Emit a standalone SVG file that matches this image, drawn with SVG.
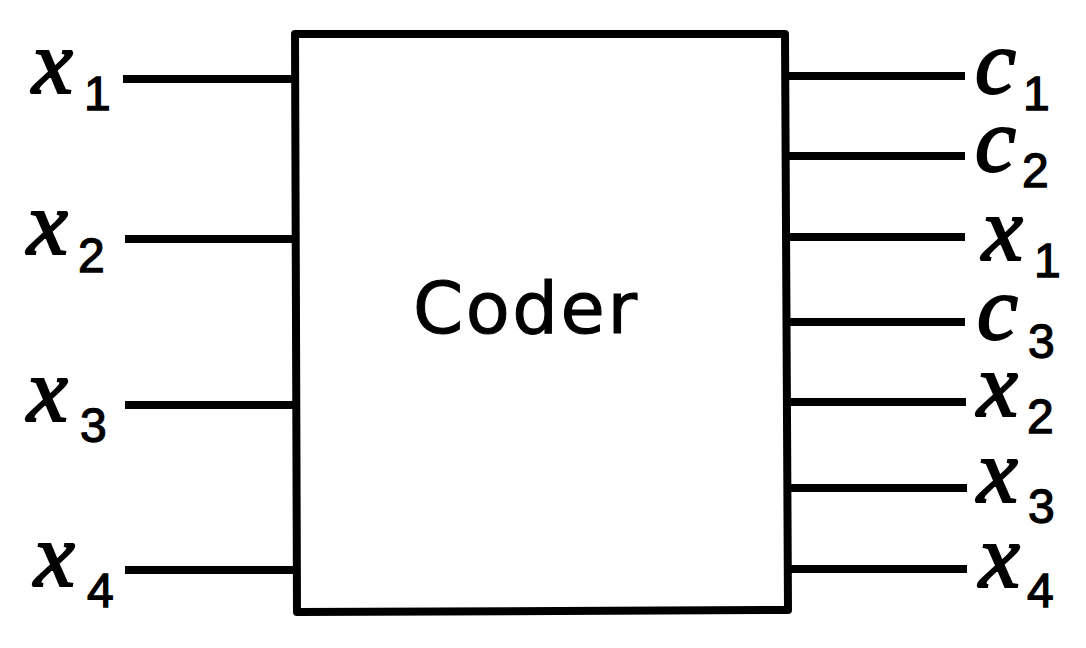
<svg xmlns="http://www.w3.org/2000/svg" width="1086" height="648" viewBox="0 0 1086 648">
<style>
.ln{stroke:#000;stroke-width:8;fill:none;stroke-linecap:butt}
.box{stroke:#000;stroke-width:8;fill:#fff;stroke-linejoin:round}
.lab text{fill:#000;stroke:#000}
</style>
<rect width="1086" height="648" fill="#fff"/>
<g id="coder">
<path class="box" d="M295,34 L785,34 L788,610 L297,612 Z"/>
<text x="413" y="333" font-family="DejaVu Sans" font-size="72" fill="#000" stroke="#000" stroke-width="1" textLength="224" lengthAdjust="spacing">Coder</text>
</g>
<g id="connectors">
<line class="ln" x1="123" y1="79" x2="295" y2="79"/>
<line class="ln" x1="125" y1="239" x2="296" y2="239"/>
<line class="ln" x1="125" y1="405" x2="296" y2="405"/>
<line class="ln" x1="125" y1="570" x2="297" y2="570"/>
<line class="ln" x1="785" y1="76" x2="965" y2="76"/>
<line class="ln" x1="785" y1="156" x2="965" y2="156"/>
<line class="ln" x1="786" y1="237" x2="965" y2="237"/>
<line class="ln" x1="786" y1="322" x2="965" y2="322"/>
<line class="ln" x1="787" y1="402" x2="966" y2="402"/>
<line class="ln" x1="787" y1="488" x2="967" y2="488"/>
<line class="ln" x1="788" y1="569" x2="967" y2="569"/>
</g>
<g class="lab">
<g font-family="Liberation Serif" font-style="italic" font-size="92" stroke-width="2.2">
<g id="in-x1-v"><text x="32" y="93">x</text></g>
<g id="in-x2-v"><text x="27" y="254">x</text></g>
<g id="in-x3-v"><text x="27" y="421">x</text></g>
<g id="in-x4-v"><text x="34" y="586">x</text></g>
<g id="out-c1-v"><text x="975" y="93">c</text></g>
<g id="out-c2-v"><text x="975" y="171">c</text></g>
<g id="out-x1-v"><text x="982" y="260">x</text></g>
<g id="out-c3-v"><text x="977" y="339">c</text></g>
<g id="out-x2-v"><text x="977" y="416">x</text></g>
<g id="out-x3-v"><text x="977" y="502">x</text></g>
<g id="out-x4-v"><text x="979" y="587">x</text></g>
</g>
<g font-family="Liberation Sans" font-size="48" stroke-width="1.3">
<g id="in-x1-s"><text x="84" y="110">1</text></g>
<g id="in-x2-s"><text x="78" y="272">2</text></g>
<g id="in-x3-s"><text x="80" y="442">3</text></g>
<g id="in-x4-s"><text x="87" y="607">4</text></g>
<g id="out-c1-s"><text x="1023" y="110">1</text></g>
<g id="out-c2-s"><text x="1022" y="187">2</text></g>
<g id="out-x1-s"><text x="1034" y="277">1</text></g>
<g id="out-c3-s"><text x="1028" y="358">3</text></g>
<g id="out-x2-s"><text x="1027" y="433">2</text></g>
<g id="out-x3-s"><text x="1028" y="523">3</text></g>
<g id="out-x4-s"><text x="1027" y="607">4</text></g>
</g>
</g>
</svg>
